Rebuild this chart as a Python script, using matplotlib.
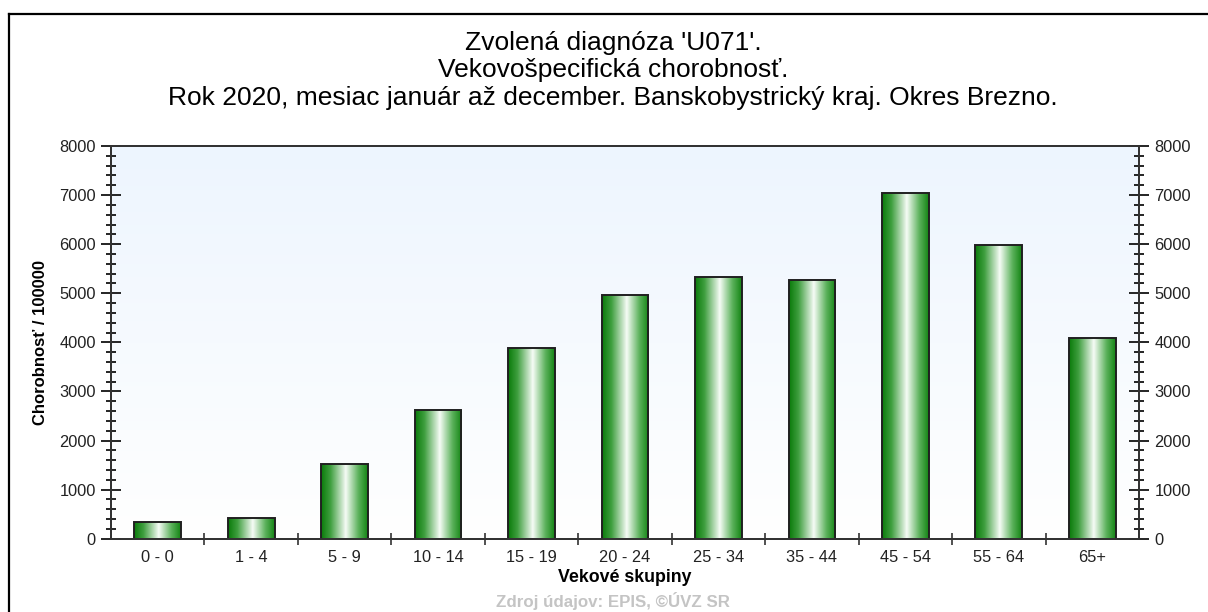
import numpy as np
import matplotlib
matplotlib.use("Agg")
import matplotlib.pyplot as plt
from matplotlib.colors import LinearSegmentedColormap
from matplotlib.lines import Line2D
from matplotlib.ticker import MultipleLocator

# Data
age_groups = ["0 - 0", "1 - 4", "5 - 9", "10 - 14", "15 - 19", "20 - 24",
              "25 - 34", "35 - 44", "45 - 54", "55 - 64", "65+"]
morbidity = [335, 422, 1518, 2622, 3878, 4964, 5325, 5270, 7036, 5983, 4088]

title_lines = ["Zvolená diagnóza 'U071'.",
               "Vekovošpecifická chorobnosť.",
               "Rok 2020, mesiac január až december. Banskobystrický kraj. Okres Brezno."]
x_label = "Vekové skupiny"
y_label = "Chorobnosť / 100000"
source = "Zdroj údajov: EPIS, ©ÚVZ SR"

plt.rcParams['font.family'] = ['Liberation Sans', 'DejaVu Sans']

W, H = 1208, 612
fig = plt.figure(figsize=(W / 100, H / 100), dpi=100)
fig.patch.set_facecolor("white")

left, right, bottom, top = 111, 1139, 538.7, 146
ax = fig.add_axes([left / W, 1 - bottom / H, (right - left) / W, (bottom - top) / H])

# background gradient of plot area
bg = LinearSegmentedColormap.from_list("bg", ["#ffffff", "#edf5fe"])
ax.imshow(np.linspace(0, 1, 256).reshape(-1, 1), cmap=bg, origin="lower",
          extent=[0, 1, 0, 1], transform=ax.transAxes, aspect="auto", zorder=0)

# bars with cylinder-like gradient
green = LinearSegmentedColormap.from_list(
    "cyl", [(0, "#0a7a0a"), (0.2, "#3f9f3f"), (0.53, "#f6fcf6"),
            (0.8, "#5cb25c"), (1, "#148414")])
grad = np.linspace(0, 1, 128).reshape(1, -1)
x = np.arange(len(age_groups))
bw = 0.5
for xi, v in zip(x, morbidity):
    ax.imshow(grad, cmap=green, extent=[xi - bw / 2, xi + bw / 2, 0, v],
              aspect="auto", zorder=2)
ax.bar(x, morbidity, width=bw, facecolor="none", edgecolor="#202020",
       linewidth=1.4, zorder=3)

ax.set_xlim(-0.5, len(age_groups) - 0.5)
ax.set_ylim(0, 8000)

tick_fs = 11.8

# x axis: labels at centers, ticks at boundaries
ax.set_xticks(x)
ax.set_xticklabels(age_groups, fontsize=tick_fs, color="#222222")
ax.tick_params(axis="x", which="major", length=0, pad=8)
ax.set_xticks(np.arange(0.5, len(age_groups) - 0.5, 1), minor=True)
ax.tick_params(axis="x", which="minor", direction="inout", length=8, width=1.2, color="#333333")

for a in (ax, ax.twinx()):
    a.set_ylim(0, 8000)
    a.yaxis.set_major_locator(MultipleLocator(1000))
    a.yaxis.set_minor_locator(MultipleLocator(200))
    a.tick_params(axis="y", which="major", direction="inout", length=14, width=1.2,
                  labelsize=tick_fs, labelcolor="#222222", pad=4)
    a.tick_params(axis="y", which="minor", direction="inout", length=7, width=1.2)
    for s in a.spines.values():
        s.set_color("#333333")
        s.set_linewidth(1.4)

ax.set_xlabel(x_label, fontsize=12.8, fontweight="bold", labelpad=3)
ax.set_ylabel(y_label, fontsize=12, fontweight="bold", labelpad=8)

for i, line in enumerate(title_lines):
    fig.text(613 / W, 1 - (43 + i * 27.5) / H, line, ha="center", va="center",
             fontsize=19, color="black")

fig.text(613 / W, 1 - 601 / H, source, ha="center", va="center",
         fontsize=12.2, fontweight="bold", color="#c4c4c4")

# outer frame (left and top)
fig.add_artist(Line2D([8.5 / W, 8.5 / W], [0, 1 - 13.5 / H], color="black", lw=1.6))
fig.add_artist(Line2D([8.5 / W, 1], [1 - 13.5 / H, 1 - 13.5 / H], color="black", lw=1.6))

fig.savefig("out.png", dpi=100)
